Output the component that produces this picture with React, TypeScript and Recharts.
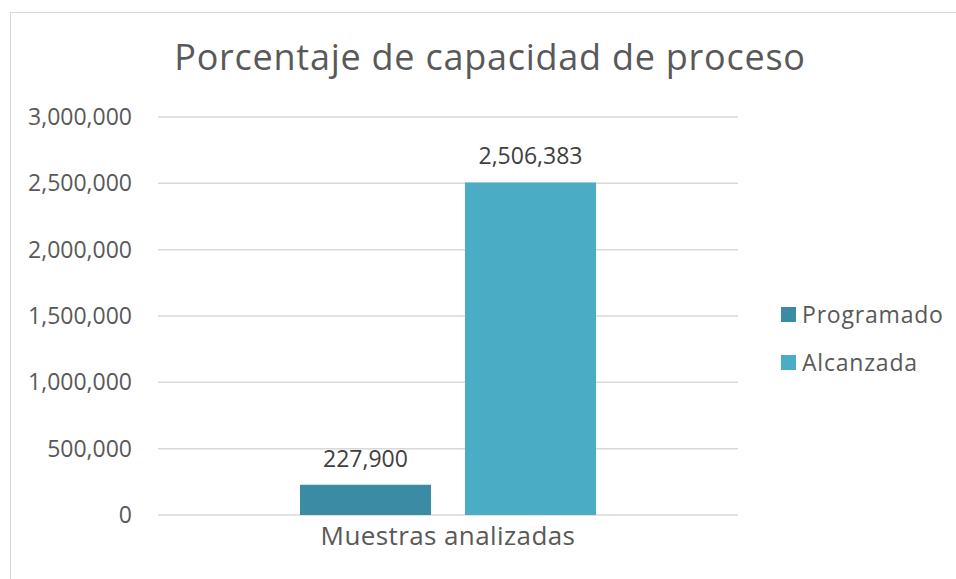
import React from 'react';
import { BarChart, Bar, XAxis, YAxis, CartesianGrid, LabelList, Legend } from 'recharts';

// values
const categories = ['Muestras analizadas'];
const programado = [227900];
const alcanzada = [2506383];
const yTicks = [0, 500000, 1000000, 1500000, 2000000, 2500000, 3000000];
const seriesKeys = ['programado', 'alcanzada'];
const seriesNames = ['Programado', 'Alcanzada'];
const seriesColors = ['#3A8BA3', '#4BACC6'];

const data = categories.map((name, i) => ({
  name,
  programado: programado[i],
  alcanzada: alcanzada[i],
}));

const FONT = '"Open Sans", "Liberation Sans", sans-serif';
const fmt = (v: number) => v.toLocaleString('en-US');

const renderLegend = () => (
  <div style={{ fontFamily: FONT }}>
    {seriesNames.map((n, i) => (
      <div key={n} style={{ display: 'flex', alignItems: 'center', height: 30, marginBottom: 18 }}>
        <span style={{ width: 15, height: 15, background: seriesColors[i], display: 'block', marginRight: 6 }} />
        <span style={{ fontSize: 23, color: '#595959', letterSpacing: 0.8 }}>{n}</span>
      </div>
    ))}
  </div>
);

const App: React.FC = () => {
  return (
    <div
      style={{
        position: 'absolute',
        left: 10,
        top: 12,
        width: 945,
        height: 566,
        borderLeft: '1px solid #d9d9d9',
        borderTop: '1px solid #d9d9d9',
        overflow: 'hidden',
        background: '#fff',
      }}
    >
      <div
        style={{
          position: 'absolute',
          left: 0,
          top: 26,
          width: 958,
          textAlign: 'center',
          fontFamily: FONT,
          fontSize: 36,
          lineHeight: '36px',
          letterSpacing: 0.75,
          color: '#595959',
        }}
      >
        Porcentaje de capacidad de proceso
      </div>
      <BarChart
        width={945}
        height={566}
        data={data}
        margin={{ top: 104, right: 218, left: 27, bottom: 14 }}
        barCategoryGap={142}
        barGap={34}
      >
        <CartesianGrid vertical={false} stroke="#d9d9d9" strokeWidth={1.5} />
        <XAxis
          dataKey="name"
          axisLine={false}
          tickLine={false}
          tickSize={0}
          tickMargin={12}
          height={50}
          tick={{ fontSize: 26, fill: '#595959', fontFamily: FONT, letterSpacing: 0.4 }}
        />
        <YAxis
          domain={[0, 3000000]}
          ticks={yTicks}
          axisLine={false}
          tickLine={false}
          tickSize={0}
          tickMargin={26}
          width={120}
          tickFormatter={fmt}
          tick={{ fontSize: 23, fill: '#595959', fontFamily: FONT }}
        />
        <Legend
          layout="vertical"
          align="center"
          verticalAlign="middle"
          wrapperStyle={{ left: 770, top: 286, width: 'auto' }}
          content={renderLegend}
        />
        {seriesKeys.map((k, i) => (
          <Bar key={k} dataKey={k} name={seriesNames[i]} fill={seriesColors[i]} isAnimationActive={false}>
            <LabelList
              dataKey={k}
              position="top"
              offset={18}
              formatter={(v: any) => fmt(Number(v))}
              style={{ fontSize: 23, fill: '#404040', fontFamily: FONT }}
            />
          </Bar>
        ))}
      </BarChart>
    </div>
  );
};

export default App;
